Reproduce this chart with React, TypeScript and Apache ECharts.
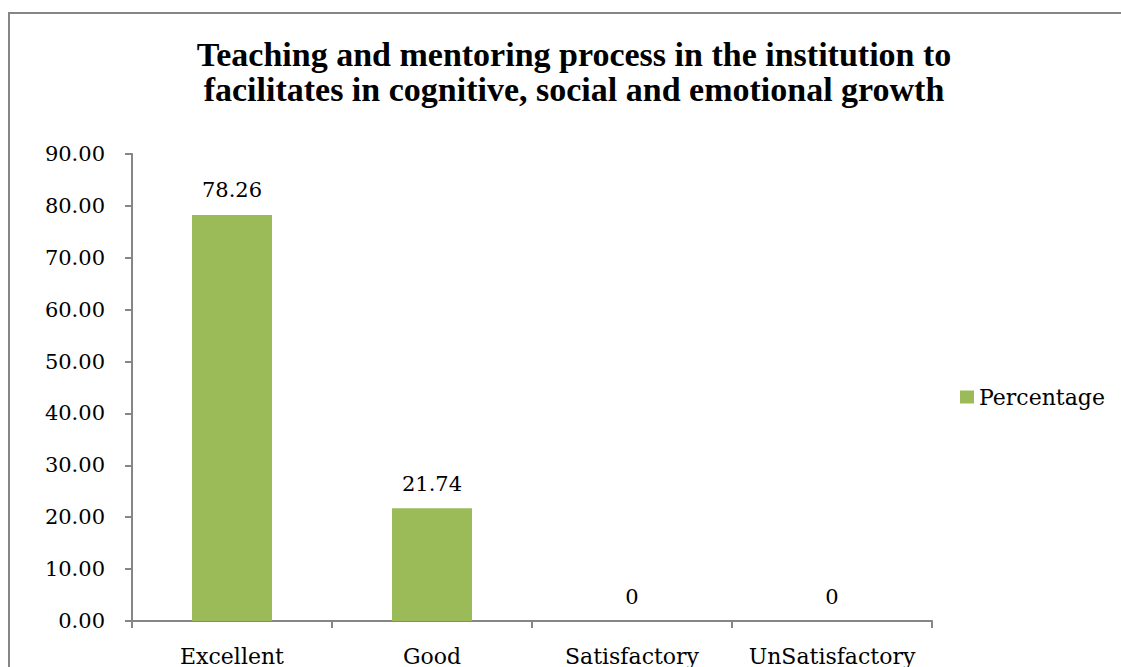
import React, { useEffect, useRef } from "react";
import * as echarts from "echarts";

const categories = ["Excellent", "Good", "Satisfactory", "UnSatisfactory"];
const percentage = [78.26, 21.74, 0, 0];
const seriesName = "Percentage";
const titleText = "Teaching and mentoring process in the institution to\nfacilitates in cognitive, social and emotional growth";

const FONT = "DejaVu Serif";
const TITLE_FONT = "Liberation Serif";

export default function App() {
  const ref = useRef<HTMLDivElement>(null);
  useEffect(() => {
    if (!ref.current) return;
    const chart = echarts.init(ref.current, undefined, { renderer: "svg" });
    chart.setOption({
      animation: false,
      backgroundColor: "#ffffff",
      textStyle: { fontFamily: FONT },
      title: {
        text: titleText,
        left: 569,
        top: 32,
        textAlign: "center",
        textStyle: {
          fontFamily: TITLE_FONT,
          fontWeight: "bold",
          fontSize: 34,
          lineHeight: 35,
          color: "#000000",
        },
      },
      legend: {
        data: [seriesName],
        orient: "vertical",
        left: 955,
        top: 381,
        itemWidth: 14,
        itemHeight: 13,
        itemGap: 8,
        icon: "rect",
        textStyle: { fontFamily: FONT, fontSize: 22, color: "#000000" },
      },
      grid: { left: 132, right: 189, top: 154, bottom: 45, containLabel: false },
      xAxis: {
        type: "category",
        data: categories,
        axisLine: { lineStyle: { color: "#868686", width: 2 } },
        axisTick: { show: true, alignWithLabel: false, length: 7, lineStyle: { color: "#868686", width: 2 } },
        axisLabel: { interval: 0, fontFamily: FONT, fontSize: 22, color: "#000000", margin: 24 },
        splitLine: { show: false },
      },
      yAxis: {
        type: "value",
        min: 0,
        max: 90,
        interval: 10,
        axisLine: { show: true, lineStyle: { color: "#868686", width: 2 } },
        axisTick: { show: true, length: 7, lineStyle: { color: "#868686", width: 2 } },
        axisLabel: {
          fontFamily: FONT,
          fontSize: 21,
          color: "#000000",
          margin: 27,
          formatter: (v: number) => v.toFixed(2),
        },
        splitLine: { show: false },
      },
      series: [
        {
          name: seriesName,
          type: "bar",
          data: percentage,
          barWidth: "40%",
          itemStyle: { color: "#9BBB59" },
          label: {
            show: true,
            position: "top",
            distance: 14,
            fontFamily: FONT,
            fontSize: 21,
            color: "#000000",
            formatter: (p: any) => String(p.value),
          },
        },
      ],
      graphic: [
        {
          type: "rect",
          shape: { x: 9, y: 13, width: 1200, height: 800 },
          style: { fill: "none", stroke: "#868686", lineWidth: 2 },
          silent: true,
        },
      ],
    });
    return () => chart.dispose();
  }, []);
  return (
    <div
      ref={ref}
      style={{ position: "absolute", left: 0, top: 0, width: 1121, height: 667 }}
    />
  );
}
